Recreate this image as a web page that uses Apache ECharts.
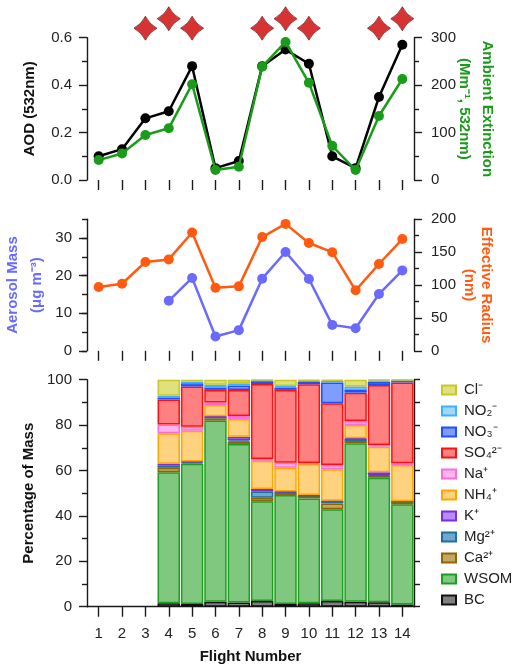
<!DOCTYPE html>
<html>
<head>
<meta charset="utf-8">
<script src="https://cdn.jsdelivr.net/npm/echarts@6/dist/echarts.min.js"></script>
<style>html,body{margin:0;padding:0;background:#fff;}#c{width:514px;height:668px;}</style>
</head>
<body>
<div id="c"></div>
<script>
const flights = ['1','2','3','4','5','6','7','8','9','10','11','12','13','14'];
const aod = [0.10,0.13,0.26,0.29,0.48,0.05,0.08,0.48,0.55,0.49,0.10,0.05,0.35,0.57];
const extinction = [42,56,95,109,202,21,28,239,291,205,72,21,135,213];
const starLevel = [null,null,0.64,0.68,0.64,null,null,0.64,0.68,0.64,null,null,0.64,0.68];
const aerosolMass = [null,null,null,13.3,19.4,3.8,5.5,19.2,26.3,19.1,6.9,6.0,15.1,21.4];
const effRadius = [97,102,135,139,180,96,98,173,193,164,150,92,132,170];

const bc   = [null,null,null,1.5,1.2,2.2,1.8,2.5,1.2,1.5,2.5,2.2,2.0,1.0];
const wsom = [null,null,null,57.7,61.8,79.8,69.9,44.0,48.0,46.2,40.4,69.8,54.8,44.1];
const ca   = [null,null,null,2.0,0.6,1.0,1.0,1.5,1.0,1.1,2.6,1.0,0.8,1.2];
const mg   = [null,null,null,0.9,0.2,0.7,0.6,2.7,0.3,0.2,1.0,0.9,0.4,0.1];
const k    = [null,null,null,0.9,0.2,0.2,1.6,1.2,0.2,0.2,0.2,0.3,1.2,0.1];
const nh4  = [null,null,null,13.4,13.5,4.9,7.8,12.4,10.5,13.7,13.8,5.8,11.3,15.9];
const na   = [null,null,null,3.9,1.8,1.2,1.3,0.8,2.2,0.4,1.9,1.8,0.7,0.8];
const so4  = [null,null,null,11.0,17.7,5.5,11.5,33.0,32.1,34.7,27.2,12.5,26.5,35.6];
const no3  = [null,null,null,0.9,1.4,1.1,1.9,1.3,1.1,1.1,9.2,1.2,1.4,0.8];
const no2  = [null,null,null,0.7,0.7,1.2,1.0,0.3,0.6,0.5,0.7,1.5,0.6,0.2];
const cl   = [null,null,null,7.1,0.9,2.2,1.6,0.3,2.8,0.4,0.5,3.0,0.3,0.2];

const speciesNames = ['BC','WSOM','Ca²⁺','Mg²⁺','K⁺','NH₄⁺','Na⁺','SO₄²⁻','NO₃⁻','NO₂⁻','Cl⁻'];
const speciesData = [bc,wsom,ca,mg,k,nh4,na,so4,no3,no2,cl];
const speciesFill = ['#7f7f7f','#80c880','#c8a464','#6ea8cc','#b48cff','#ffd27f','#ffb4ec','#ff8080','#7f9cff','#9fd8ff','#e0e07c'];
const speciesBorder = ['#111111','#1e9e1e','#8b6508','#1f6fa0','#7b2fd4','#ffa500','#ff6ad8','#ff1010','#1f4fff','#3fb0ff','#c8c828'];

const FONT = "'Liberation Sans', Arial, sans-serif";
const axisLineStyle = {color:'#1a1a1a', width:1.4};
const tickLabel = {color:'#222', fontSize:15, fontFamily:FONT};

const chart = echarts.init(document.getElementById('c'), null, {renderer:'canvas'});

function catAxis(gi, showLine, showLabel){
  return {
    type:'category', gridIndex:gi, data:flights, boundaryGap:true,
    axisLine:{show:showLine, lineStyle:axisLineStyle},
    axisTick:{show:true, alignWithLabel:true, length:10, lineStyle:axisLineStyle},
    axisLabel:Object.assign({show:showLabel, margin:20}, tickLabel),
    splitLine:{show:false}
  };
}

const starPath = 'path://M0,-12 Q4,-4 12,0 Q4,4 0,12 Q-4,4 -12,0 Q-4,-4 0,-12 Z';

const option = {
  backgroundColor:'#fff',
  animation:false,
  grid:[
    {left:87, right:100, top:37.7, height:142.3, containLabel:false, outerBoundsMode:'none'},
    {left:87, right:100, top:219.3, height:131.5, containLabel:false, outerBoundsMode:'none'},
    {left:87, right:100, top:379.7, height:227, containLabel:false, outerBoundsMode:'none'}
  ],
  xAxis:[
    catAxis(0,false,false),
    catAxis(1,false,false),
    Object.assign(catAxis(2,true,true), {
      name:'Flight Number', nameLocation:'middle', nameGap:43, nameMoveOverlap:false,
      nameTextStyle:{fontWeight:'bold', fontSize:15, color:'#111', fontFamily:FONT}
    })
  ],
  yAxis:[
    {type:'value', gridIndex:0, position:'left', min:0, max:0.6, interval:0.2,
     axisLine:{show:true, lineStyle:axisLineStyle},
     axisTick:{show:true, length:8, lineStyle:axisLineStyle},
     minorTick:{show:true, splitNumber:2, length:5, lineStyle:axisLineStyle},
     splitLine:{show:false},
     axisLabel:Object.assign({margin:15, formatter:v=>v.toFixed(1)}, tickLabel),
     name:'AOD (532nm)', nameLocation:'middle', nameGap:50, nameRotate:90, nameMoveOverlap:false,
     nameTextStyle:{fontWeight:'bold', fontSize:15, color:'#111', fontFamily:FONT}},
    {type:'value', gridIndex:0, position:'right', min:0, max:300, interval:100,
     axisLine:{show:true, lineStyle:axisLineStyle},
     axisTick:{show:true, length:8, lineStyle:axisLineStyle},
     minorTick:{show:true, splitNumber:2, length:5, lineStyle:axisLineStyle},
     splitLine:{show:false},
     axisLabel:Object.assign({margin:17}, tickLabel),
     name:'Ambient Extinction\n(Mm⁻¹, 532nm)', nameLocation:'middle', nameGap:39, nameRotate:-90, nameMoveOverlap:false,
     nameTextStyle:{fontWeight:'bold', fontSize:15, color:'#1a9c1a', fontFamily:FONT, lineHeight:23, align:'center'}},
    {type:'value', gridIndex:1, position:'left', min:0, max:35, interval:5,
     axisLine:{show:false},
     axisTick:{show:true, length:5, lineStyle:axisLineStyle},
     axisLabel:{show:false}, splitLine:{show:false}},
    {type:'value', gridIndex:1, position:'left', min:0, max:35, interval:10,
     axisLine:{show:true, lineStyle:axisLineStyle},
     axisTick:{show:true, length:8, lineStyle:axisLineStyle},
     splitLine:{show:false},
     axisLabel:Object.assign({margin:15, showMaxLabel:false}, tickLabel),
     name:'Aerosol Mass\n(μg m⁻³)', nameLocation:'middle', nameGap:38, nameRotate:90, nameMoveOverlap:false,
     nameTextStyle:{fontWeight:'bold', fontSize:15, color:'#6a6aff', fontFamily:FONT, lineHeight:24, align:'center'}},
    {type:'value', gridIndex:1, position:'right', min:0, max:200, interval:50,
     axisLine:{show:true, lineStyle:axisLineStyle},
     axisTick:{show:true, length:8, lineStyle:axisLineStyle},
     minorTick:{show:true, splitNumber:2, length:5, lineStyle:axisLineStyle},
     splitLine:{show:false},
     axisLabel:Object.assign({margin:17}, tickLabel),
     name:'Effective Radius\n(nm)', nameLocation:'middle', nameGap:47, nameRotate:-90, nameMoveOverlap:false,
     nameTextStyle:{fontWeight:'bold', fontSize:15, color:'#ff5a0f', fontFamily:FONT, lineHeight:17, align:'center'}},
    {type:'value', gridIndex:2, position:'left', min:0, max:100, interval:20,
     axisLine:{show:true, lineStyle:axisLineStyle},
     axisTick:{show:true, length:8, lineStyle:axisLineStyle},
     minorTick:{show:true, splitNumber:2, length:5, lineStyle:axisLineStyle},
     splitLine:{show:false},
     axisLabel:Object.assign({margin:15}, tickLabel),
     name:'Percentage of Mass', nameLocation:'middle', nameGap:51, nameRotate:90, nameMoveOverlap:false,
     nameTextStyle:{fontWeight:'bold', fontSize:15, color:'#111', fontFamily:FONT}},
    {type:'value', gridIndex:2, position:'right', min:0, max:100, interval:10,
     axisLine:{show:true, lineStyle:axisLineStyle},
     axisTick:{show:true, length:6, lineStyle:axisLineStyle},
     axisLabel:{show:false}, splitLine:{show:false}}
  ],
  legend:{
    orient:'vertical', left:436, top:377.5,
    itemWidth:14, itemHeight:9, itemGap:6,
    icon:'rect',
    data:speciesNames.slice().reverse(),
    textStyle:{fontSize:15, color:'#222', fontFamily:FONT, lineHeight:15, padding:[0,0,0,3]}
  },
  series:[
    {type:'line', name:'AOD', xAxisIndex:0, yAxisIndex:0, data:aod,
     symbol:'circle', symbolSize:10, lineStyle:{color:'#000', width:2.5}, itemStyle:{color:'#000'}, z:3},
    {type:'line', name:'Extinction', xAxisIndex:0, yAxisIndex:1, data:extinction,
     symbol:'circle', symbolSize:10, lineStyle:{color:'#1a9c1a', width:2.5}, itemStyle:{color:'#1a9c1a'}, z:4},
    {type:'scatter', name:'stars', xAxisIndex:0, yAxisIndex:0, data:starLevel, clip:false,
     symbol:starPath, symbolSize:[23,24], itemStyle:{color:'#cc0000', borderColor:'#5a0000', borderWidth:0.8}, z:5},
    {type:'line', name:'Aerosol Mass', xAxisIndex:1, yAxisIndex:3, data:aerosolMass,
     symbol:'circle', symbolSize:10, lineStyle:{color:'#6a6aff', width:2.5}, itemStyle:{color:'#6a6aff'}},
    {type:'line', name:'Effective Radius', xAxisIndex:1, yAxisIndex:4, data:effRadius,
     symbol:'circle', symbolSize:10, lineStyle:{color:'#ff5a0f', width:2.5}, itemStyle:{color:'#ff5a0f'}}
  ].concat(speciesNames.map((n,i)=>({
    type:'bar', name:n, stack:'mass', xAxisIndex:2, yAxisIndex:5, data:speciesData[i],
    barCategoryGap:'4%',
    itemStyle:{color:speciesFill[i], borderColor:speciesBorder[i], borderWidth:1.5}
  })))
};
chart.setOption(option);
</script>
</body>
</html>
